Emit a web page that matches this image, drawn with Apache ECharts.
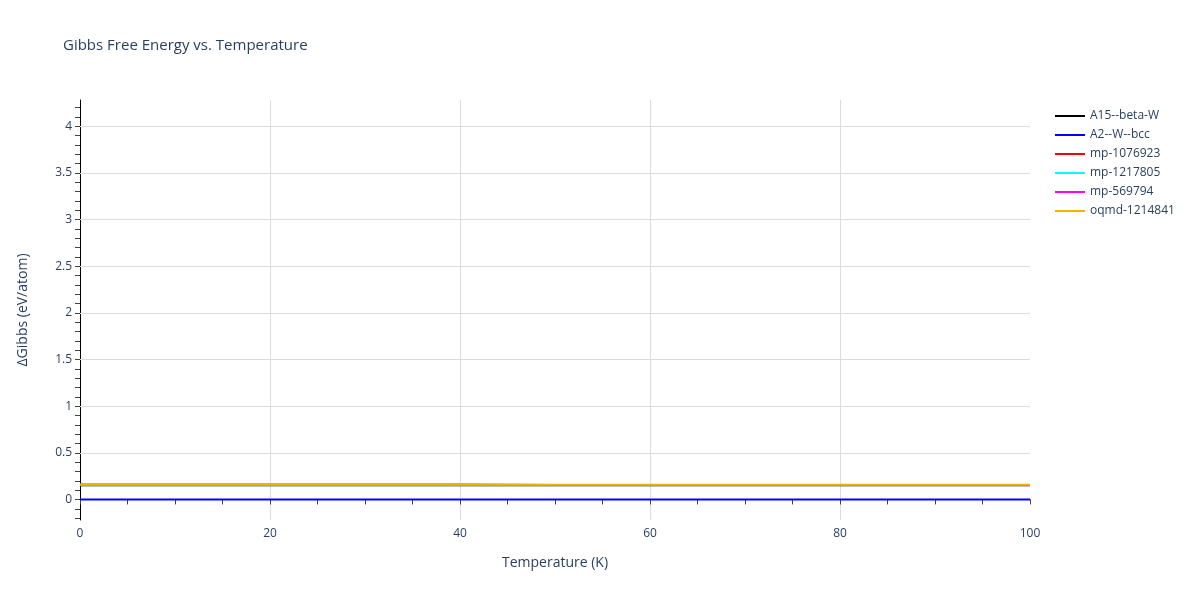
<!DOCTYPE html>
<html><head><meta charset="utf-8">
<script src="https://cdn.jsdelivr.net/npm/echarts@6/dist/echarts.min.js"></script>
<style>html,body{margin:0;padding:0;background:#fff}#c{width:1200px;height:600px}</style>
</head><body><div id="c"></div>
<script>
const temperatures = [0, 10, 20, 30, 40, 50, 60, 70, 80, 90, 100];
const seriesNames = ['A15--beta-W', 'A2--W--bcc', 'mp-1076923', 'mp-1217805', 'mp-569794', 'oqmd-1214841'];
const seriesColors = ['#000000', '#0000ff', '#ff0000', '#00ffff', '#ff00ff', '#f0b400'];
const a15Values = [0.152, 0.152, 0.152, 0.152, 0.152, 0.151, 0.151, 0.151, 0.151, 0.151, 0.151];
const a2Values = [0, 0, 0, 0, 0, 0, 0, 0, 0, 0, 0];
const mp1076923Values = [0.157, 0.157, 0.157, 0.157, 0.157, 0.156, 0.156, 0.156, 0.156, 0.156, 0.156];
const mp1217805Values = [0.157, 0.157, 0.157, 0.157, 0.157, 0.156, 0.156, 0.156, 0.156, 0.156, 0.156];
const mp569794Values = [0.157, 0.157, 0.157, 0.157, 0.157, 0.156, 0.156, 0.156, 0.156, 0.156, 0.156];
const oqmdValues = [0.158, 0.158, 0.158, 0.158, 0.158, 0.157, 0.157, 0.157, 0.157, 0.157, 0.157];
const allValues = [a15Values, a2Values, mp1076923Values, mp1217805Values, mp569794Values, oqmdValues];
const yLabelValues = [0, 0.5, 1, 1.5, 2, 2.5, 3, 3.5, 4];
const yGridValues = [0.5, 1, 1.5, 2, 2.5, 3, 3.5, 4];
const yTickValues = [-0.2,-0.1,0,0.1,0.2,0.3,0.4,0.5,0.6,0.7,0.8,0.9,1,1.1,1.2,1.3,1.4,1.5,1.6,1.7,1.8,1.9,2,2.1,2.2,2.3,2.4,2.5,2.6,2.7,2.8,2.9,3,3.1,3.2,3.3,3.4,3.5,3.6,3.7,3.8,3.9,4,4.1,4.2];

const chart = echarts.init(document.getElementById('c'));
const font = '"Open Sans", "Noto Sans", sans-serif';
const txt = '#2a3f5f';
const series = seriesNames.map((n, i) => ({
  name: n, type: 'line', showSymbol: false, symbol: 'none',
  data: temperatures.map((t, j) => [t, allValues[i][j]]),
  lineStyle: { color: seriesColors[i], width: 2 },
  itemStyle: { color: seriesColors[i] },
  z: 3 + i, animation: false
}));
series.unshift({
  name: '_grid', type: 'line', data: [], silent: true, z: 1,
  markLine: {
    silent: true, symbol: ['none', 'none'], animation: false,
    label: { show: false },
    lineStyle: { color: '#dcdcdc', width: 1, type: 'solid' },
    emphasis: { disabled: true },
    data: yGridValues.map(v => ({ yAxis: v }))
  }
});
chart.setOption({
  animation: false,
  backgroundColor: '#fff',
  title: { text: 'Gibbs Free Energy vs. Temperature', left: 58, top: 33,
    textStyle: { fontFamily: font, fontSize: 15, fontWeight: 'normal', color: txt } },
  legend: {
    data: seriesNames, orient: 'vertical', left: 1050, top: 105,
    icon: 'rect', itemWidth: 30, itemHeight: 2, itemGap: 7,
    textStyle: { fontFamily: font, fontSize: 12, color: txt }
  },
  grid: { left: 80, right: 170, top: 100, bottom: 80, containLabel: false },
  xAxis: {
    type: 'value', min: 0, max: 100, interval: 20,
    name: 'Temperature (K)', nameLocation: 'middle', nameGap: 36,
    nameTextStyle: { fontFamily: font, fontSize: 14, color: txt },
    axisLine: { show: true, lineStyle: { color: '#000', width: 1 } },
    axisTick: { show: true, inside: false, length: 5, lineStyle: { color: '#444' } },
    minorTick: { show: true, splitNumber: 4, length: 5, lineStyle: { color: '#444' } },
    axisLabel: { fontFamily: font, fontSize: 12, color: txt, margin: 8 },
    splitLine: { show: true, showMinLine: false, showMaxLine: false, lineStyle: { color: '#dcdcdc', width: 1 } }
  },
  yAxis: {
    type: 'value', min: -0.22, max: 4.28,
    name: 'ΔGibbs (eV/atom)', nameLocation: 'middle', nameGap: 50,
    nameTextStyle: { fontFamily: font, fontSize: 14, color: txt },
    axisLine: { show: true, onZero: false, lineStyle: { color: '#000', width: 1 } },
    axisTick: { show: true, inside: false, length: 5, customValues: yTickValues, lineStyle: { color: '#444' } },
    axisLabel: { fontFamily: font, fontSize: 12, color: txt, margin: 8, customValues: yLabelValues,
      formatter: v => String(v) },
    splitLine: { show: false }
  },
  series: series
});
</script></body></html>
